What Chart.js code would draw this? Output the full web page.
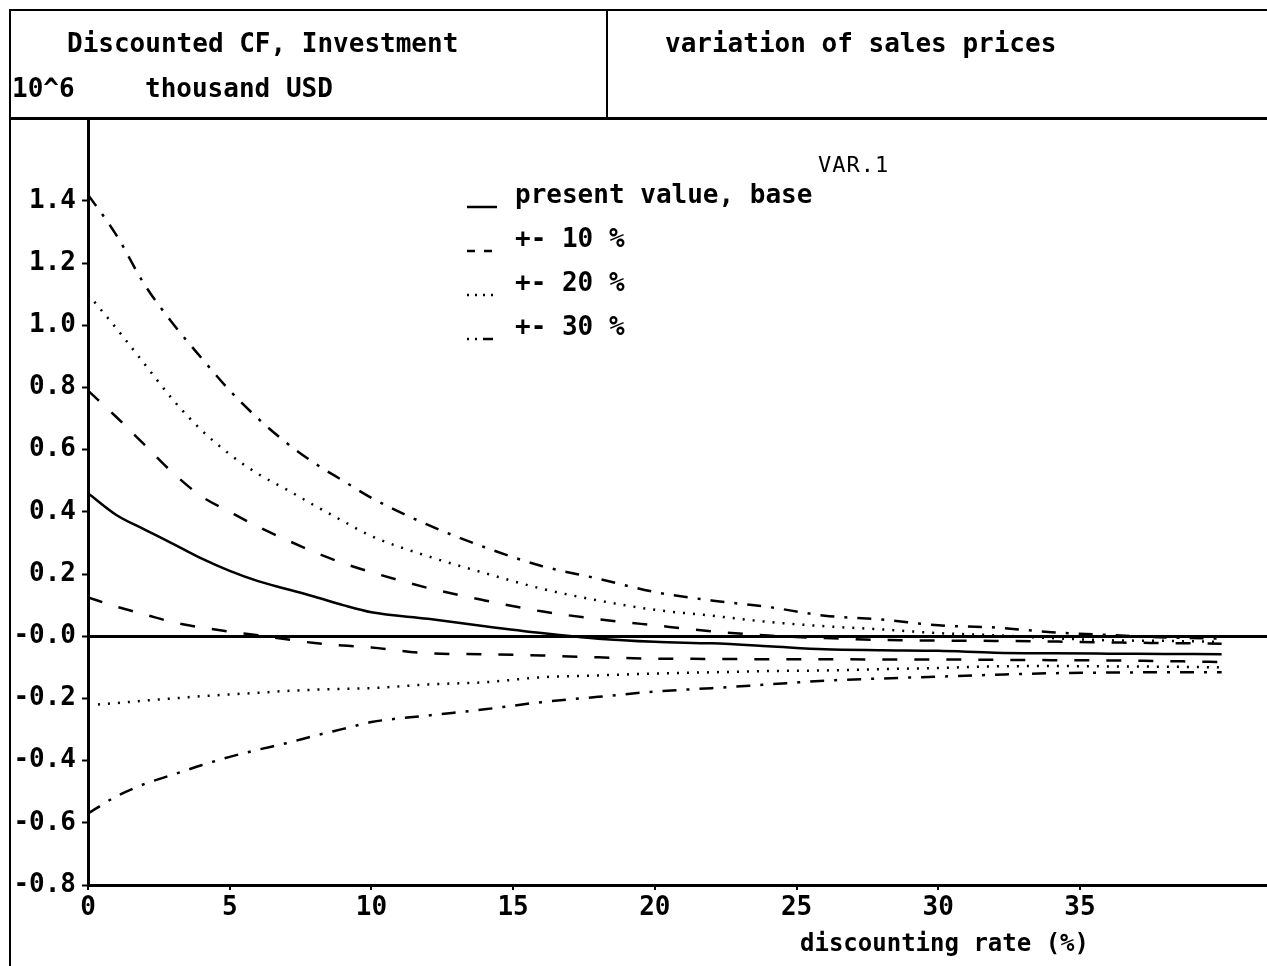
<!DOCTYPE html>
<html>
<head>
<meta charset="utf-8">
<script src="https://cdn.jsdelivr.net/npm/chart.js@4/dist/chart.umd.min.js"></script>
<style>
body {margin:0; background:#fff}
#wrap {position:relative; width:1267px; height:966px; overflow:hidden; background:#fff}
#wrap canvas {position:absolute; left:0; top:0}
.t {position:absolute; font:bold 26px 'DejaVu Sans Mono', monospace; color:#000; white-space:pre; line-height:26px}
.ln {position:absolute; background:#000}
</style>
</head>
<body>
<div id="wrap">
    <canvas id="npvChart" width="1267" height="966"></canvas>
    <div class="ln" style="left:9px;top:9px;width:1258px;height:2px"></div>
    <div class="ln" style="left:9px;top:9px;width:2px;height:957px"></div>
    <div class="ln" style="left:9px;top:117px;width:1258px;height:3px"></div>
    <div class="ln" style="left:606px;top:9px;width:2px;height:110px"></div>
    <div class="t" style="left:67px;top:30px">Discounted CF, Investment</div>
    <div class="t" style="left:12px;top:75px">10^6</div>
    <div class="t" style="left:145px;top:75px">thousand USD</div>
    <div class="t" style="left:665px;top:30px">variation of sales prices</div>
    <div class="t" style="left:818px;top:152px;font-weight:normal;font-size:22px;letter-spacing:1px">VAR.1</div>
    <div class="t" style="left:800px;top:930px;font-size:24px">discounting rate (%)</div>
</div>
<script>
// discounting rate (%)
const rates = [0,1,2,3,4,5,6,7,8,9,10,12,14,16,18,20,22,24,26,28,30,32,34,36,38,40]

// present value, 10^6 thousand USD
const base    = [0.46,0.39,0.343,0.297,0.25,0.21,0.177,0.152,0.127,0.1,0.077,0.056,0.032,0.01,-0.008,-0.018,-0.023,-0.032,-0.042,-0.045,-0.047,-0.053,-0.055,-0.056,-0.057,-0.058]
const plus10  = [0.79,0.705,0.615,0.525,0.45,0.4,0.352,0.31,0.27,0.235,0.206,0.155,0.115,0.08,0.055,0.035,0.016,0.002,-0.006,-0.012,-0.014,-0.015,-0.017,-0.02,-0.022,-0.024]
const minus10 = [0.125,0.095,0.07,0.045,0.028,0.015,0.003,-0.01,-0.022,-0.03,-0.036,-0.055,-0.058,-0.062,-0.068,-0.072,-0.073,-0.074,-0.074,-0.075,-0.075,-0.076,-0.077,-0.078,-0.08,-0.083]
const plus20  = [1.1,0.99,0.875,0.76,0.663,0.585,0.522,0.472,0.42,0.37,0.322,0.257,0.203,0.153,0.115,0.085,0.066,0.046,0.032,0.022,0.01,0.003,-0.006,-0.013,-0.015,-0.018]
const minus20 = [-0.222,-0.215,-0.207,-0.2,-0.193,-0.187,-0.182,-0.176,-0.172,-0.169,-0.167,-0.155,-0.148,-0.132,-0.126,-0.12,-0.116,-0.112,-0.11,-0.106,-0.102,-0.097,-0.096,-0.097,-0.098,-0.1]
const plus30  = [1.42,1.29,1.13,1.005,0.895,0.79,0.7,0.622,0.556,0.5,0.445,0.358,0.286,0.226,0.185,0.142,0.115,0.094,0.066,0.054,0.035,0.028,0.013,0.004,-0.004,-0.008]
const minus30 = [-0.57,-0.515,-0.475,-0.445,-0.415,-0.388,-0.365,-0.344,-0.32,-0.298,-0.276,-0.255,-0.235,-0.212,-0.195,-0.178,-0.167,-0.155,-0.143,-0.136,-0.13,-0.124,-0.119,-0.117,-0.116,-0.116]

const xTicks = [0,5,10,15,20,25,30,35]
const yTicks = [-0.8,-0.6,-0.4,-0.2,0,0.2,0.4,0.6,0.8,1.0,1.2,1.4]
const legendLabels = ['present value, base','+- 10 %','+- 20 %','+- 30 %']

const font = {family: "'DejaVu Sans Mono', monospace", size: 26, weight: 'bold'}
// line styles of the curves, and the short ones used in the legend
const styles = [
    {dash: [], sample: []},
    {dash: [15,17], sample: [8,9]},
    {dash: [2,8], sample: [2,6]},
    {dash: [14,10,3,10], sample: [2,6,2,6,10,4]}
]

const series = [
    {vals: base, style: 0, legend: true},
    {vals: plus10, style: 1, legend: true},
    {vals: minus10, style: 1},
    {vals: plus20, style: 2, legend: true},
    {vals: minus20, style: 2},
    {vals: plus30, style: 3, legend: true},
    {vals: minus30, style: 3}
]

// legend drawn inside the plot, sample line left of the text like the old plotter did
const legendPlugin = {
    id: 'plotLegend',
    afterDraw(chart) {
        const {ctx} = chart
        ctx.save()
        chart.data.datasets.forEach(ds => {
            if (!ds.inLegend) return
            const y = 196 + ds.styleIdx * 44
            ctx.strokeStyle = '#000'
            ctx.lineWidth = 2.5
            ctx.setLineDash(styles[ds.styleIdx].sample)
            ctx.beginPath()
            ctx.moveTo(467, y + 11)
            ctx.lineTo(497, y + 11)
            ctx.stroke()
            ctx.setLineDash([])
            ctx.fillStyle = '#000'
            ctx.font = `bold ${font.size}px ${font.family}`
            ctx.textBaseline = 'middle'
            ctx.fillText(ds.label, 515, y)
        })
        ctx.restore()
    }
}

new Chart('npvChart', {
    type: 'line',
    data: {
        datasets: series.map(s => ({
            label: legendLabels[s.style],
            inLegend: !!s.legend,
            styleIdx: s.style,
            data: rates.map((r, i) => ({x: r, y: s.vals[i]})),
            borderColor: '#000',
            borderWidth: 2.5,
            borderDash: styles[s.style].dash,
            pointRadius: 0,
            cubicInterpolationMode: 'monotone',
            fill: false
        }))
    },
    options: {
        responsive: false,
        animation: false,
        layout: {padding: {top: 120, left: 0, right: 0, bottom: 0}},
        plugins: {legend: {display: false}, tooltip: {enabled: false}},
        scales: {
            x: {
                type: 'linear',
                min: 0,
                max: 41.6,
                afterBuildTicks: s => { s.ticks = xTicks.map(v => ({value: v})) },
                afterFit: s => { s.height = 81 },
                grid: {drawOnChartArea: false, color: '#000', tickLength: 5, lineWidth: 2},
                border: {color: '#000', width: 3},
                ticks: {color: '#000', font: font, padding: 3, maxRotation: 0, callback: v => v}
            },
            y: {
                min: -0.8,
                max: 1.66,
                afterBuildTicks: s => { s.ticks = yTicks.map(v => ({value: v})) },
                afterFit: s => { s.width = 88 },
                grid: {
                    color: c => c.tick && c.tick.value === 0 ? '#000' : 'rgba(0,0,0,0)',
                    lineWidth: 3,
                    tickColor: '#000',
                    tickWidth: 2,
                    tickLength: 6
                },
                border: {color: '#000', width: 3},
                ticks: {color: '#000', font: font, padding: 6, callback: v => v === 0 ? '-0.0' : v.toFixed(1)}
            }
        }
    },
    plugins: [legendPlugin]
})
</script>
</body>
</html>
